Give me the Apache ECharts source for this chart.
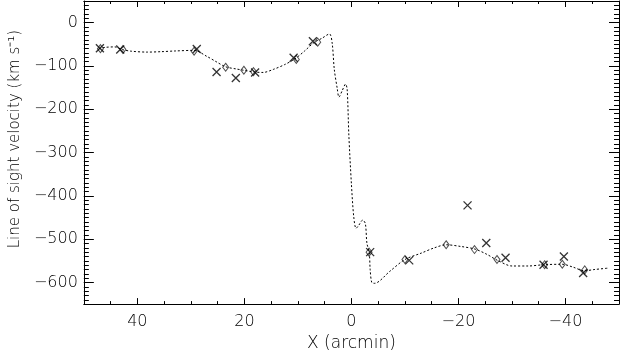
<!DOCTYPE html>
<html>
<head>
<meta charset="utf-8">
<script src="https://cdn.jsdelivr.net/npm/echarts@6/dist/echarts.min.js"></script>
<style>
  html, body { margin: 0; padding: 0; background: #fff; }
  #chart { width: 621px; height: 357px; }
</style>
</head>
<body>
<div id="chart"></div>
<script>
// model curve (dotted line)
const modelX = [47.2, 46.0, 44.2, 42.9, 41.1, 38.1, 35.5, 33.1, 29.4, 27.0, 25.3, 23.5, 21.5, 20.1, 18.2, 16.5, 14.6, 12.5, 10.6, 8.8,
  7.0, 5.5, 4.1, 3.6, 3.2, 2.64, 2.33, 1.72, 1.1, 0.8, 0.48, 0.0, -0.44, -0.87, -1.37, -2.1, -2.6, -2.9, -3.33, -3.5,
  -3.8, -4.3, -7.2, -10.0, -13.1, -15.5, -17.7, -20.5, -23.1, -25.3, -27.3, -30.0, -33.0, -36.0, -39.4, -41.5, -43.5, -45.5, -47.9]
const modelV = [-60, -57, -56, -62, -66, -68, -67, -65.5, -64, -78, -90, -102, -107, -110, -114, -115, -108, -97, -84, -66,
  -46, -36, -26, -47, -108, -153, -172, -157, -142, -153, -260, -373, -449, -475, -468, -456, -464, -510, -530, -570,
  -600, -602, -574, -547, -532, -520, -513, -517, -523, -535, -549, -562, -562, -559, -558, -565, -573, -570, -567]

// measured points: diamonds
const diamondX = [46.9, 42.7, 29.4, 23.5, 20.1, 18.3, 10.3, 6.3, -3.3, -10.0, -17.7, -23.0, -27.2, -36.1, -39.4, -43.6]
const diamondV = [-60, -62, -66, -103, -110, -113, -85, -45, -530, -547, -513, -524, -547, -559, -558, -571]

// measured points: crosses
const crossX = [47.0, 43.2, 28.9, 25.2, 21.6, 18.0, 10.8, 7.2, -3.5, -10.8, -21.7, -25.2, -28.8, -35.9, -39.7, -43.3]
const crossV = [-59, -62, -61, -114, -128, -115, -81, -43, -530, -549, -422, -509, -543, -559, -540, -578]

// tick labels
const xMajor = [40, 20, 0, -20, -40]
const yMajor = [0, -100, -200, -300, -400, -500, -600]

const xMinor = []
for (let v = -50; v <= 50; v += 5) xMinor.push(v)
const yMinor = []
for (let v = -650; v <= 50; v += 10) yMinor.push(v)

const FONT = 'DejaVu Sans'
const WEIGHT = 200
const fmt = v => (v < 0 ? '\u2212' + Math.abs(v) : String(v))
const zip = (xs, ys) => xs.map((x, i) => [x, ys[i]])

function xAx(position, ticks, len, major) {
  return {
    type: 'value', position, min: -50, max: 50, inverse: true,
    axisLine: { show: major, onZero: false, lineStyle: { color: '#000', width: 1 } },
    axisTick: { show: true, inside: true, length: len, customValues: ticks, lineStyle: { color: '#000', width: 1 } },
    axisLabel: { show: false },
    splitLine: { show: false }
  }
}
function yAx(position, ticks, len, major) {
  return {
    type: 'value', position, min: -650, max: 50,
    axisLine: { show: major, onZero: false, lineStyle: { color: '#000', width: 1 } },
    axisTick: { show: true, inside: true, length: len, customValues: ticks, lineStyle: { color: '#000', width: 1 } },
    axisLabel: { show: false },
    splitLine: { show: false }
  }
}

const xBottom = xAx('bottom', xMajor, 6, true)
xBottom.axisLabel = { show: true, customValues: xMajor, formatter: fmt, color: '#000', fontFamily: FONT, fontWeight: WEIGHT, fontSize: 16, margin: 10 }
xBottom.name = 'X (arcmin)'
xBottom.nameLocation = 'middle'
xBottom.nameGap = 30
xBottom.nameTextStyle = { color: '#000', fontFamily: FONT, fontWeight: WEIGHT, fontSize: 17 }

const yLeft = yAx('left', yMajor, 10, true)
yLeft.axisLabel = { show: true, customValues: yMajor, formatter: fmt, color: '#000', fontFamily: FONT, fontWeight: WEIGHT, fontSize: 16, margin: 6 }
yLeft.name = 'Line of sight velocity (km s\u207B\u00B9)'
yLeft.nameLocation = 'middle'
yLeft.nameGap = 60
yLeft.nameTextStyle = { color: '#000', fontFamily: FONT, fontWeight: WEIGHT, fontSize: 15, padding: [0, 0, 0, 27] }

const chart = echarts.init(document.getElementById('chart'))
chart.setOption({
  animation: false,
  backgroundColor: '#fff',
  grid: { left: 78, right: 2, top: 1, bottom: 48.5 },
  xAxis: [
    xBottom,
    xAx('bottom', xMinor, 3, false),
    xAx('top', xMajor, 6, true),
    xAx('top', xMinor, 3, false)
  ],
  yAxis: [
    yLeft,
    yAx('left', yMinor, 5, false),
    yAx('right', yMajor, 10, true),
    yAx('right', yMinor, 5, false)
  ],
  series: [
    {
      type: 'line',
      data: zip(modelX, modelV),
      showSymbol: false,
      smooth: 0.3,
      lineStyle: { color: '#000', width: 1, type: [2, 2] }
    },
    {
      type: 'scatter',
      data: zip(diamondX, diamondV),
      symbol: 'diamond',
      symbolSize: [6, 8],
      itemStyle: { color: 'rgba(0,0,0,0)', borderColor: '#222', borderWidth: 1 }
    },
    {
      type: 'scatter',
      data: zip(crossX, crossV),
      symbol: 'path://M0,0L10,10M10,0L0,10',
      symbolSize: 8,
      itemStyle: { color: 'rgba(0,0,0,0)', borderColor: '#000', borderWidth: 1.3 }
    }
  ]
})
</script>
</body>
</html>
